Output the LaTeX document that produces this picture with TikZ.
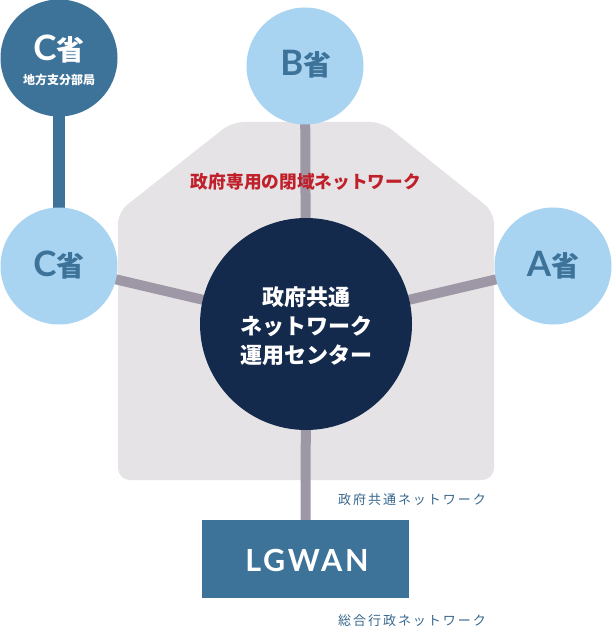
\documentclass[tikz,border=0pt]{standalone}
\usepackage{fontspec}
\setmainfont{Lato}
\newfontfamily\jp{Noto Sans CJK JP}
\newfontfamily\jpsp{Noto Sans CJK JP}[LetterSpace=15]
\newfontfamily\latsp{Lato}[LetterSpace=9]
\definecolor{dblue}{HTML}{3D7299}
\definecolor{lblue}{HTML}{A8D4F2}
\definecolor{navy}{HTML}{142A4C}
\definecolor{bggray}{HTML}{E5E3E5}
\definecolor{conn}{HTML}{9E98A6}
\definecolor{netred}{HTML}{C0202A}
\definecolor{labblue}{HTML}{36668C}
\newcommand{\sho}{{\fontsize{28}{30}\selectfont\jp 省}}
\pgfdeclarelayer{bg}
\pgfdeclarelayer{mid}
\pgfsetlayers{bg,mid,main}
\tikzset{
  ministry/.style={circle, fill=lblue, minimum size=117pt, inner sep=0pt},
  branch/.style={circle, fill=dblue, minimum size=117pt, inner sep=0pt},
  hub/.style={circle, fill=navy, minimum size=212pt, inner sep=0pt},
  lgbox/.style={rectangle, fill=dblue, minimum width=207pt, minimum height=78pt, inner sep=0pt},
  link/.style={draw=conn, line width=10pt},
  branchlink/.style={draw=dblue, line width=12pt},
  mlabel/.style={text=dblue, font=\bfseries\fontsize{35}{36}\selectfont},
  wlabel/.style={text=white, font=\bfseries\fontsize{35}{36}\selectfont},
  netlabel/.style={text=labblue, font=\fontsize{13}{15}\selectfont\jpsp},
}
\begin{document}
\begin{tikzpicture}[x=1pt,y=-1pt]
\useasboundingbox (0,0) rectangle (612,628);
% nodes
\node[branch] (Cd) at (59,58) {};
\node[wlabel] (Cdt) at (59,49) {C\sho};
\node[text=white, font=\bfseries\fontsize{12}{14}\selectfont\jp] (Cds) at (59,80) {地方支分部局};
\node[ministry] (C) at (59,266) {};
\node[mlabel] (Ct) at (59,265) {C\sho};
\node[ministry] (B) at (305,66) {};
\node[mlabel] (Bt) at (306,64) {B\sho};
\node[ministry] (A) at (553,266) {};
\node[mlabel] (At) at (553,265) {A\sho};
\node[hub] (H) at (306,324) {};
\node[text=white, align=center, font=\bfseries\fontsize{22}{29}\selectfont\jp] (Ht) at (306,326) {政府共通\\ネットワーク\\運用センター};
\node[lgbox] (L) at (305.5,559) {};
\node[text=white, font=\bfseries\fontsize{30.5}{33}\selectfont\latsp] (Lt) at (307,560) {LGWAN};
\node[text=netred, font=\bfseries\fontsize{17.7}{19}\selectfont\jp] (closed) at (306,182) {政府専用の閉域ネットワーク};
\node[netlabel] (gov) at (412,500) {政府共通ネットワーク};
\node[netlabel] (lg) at (412,621) {総合行政ネットワーク};
% background area
\begin{pgfonlayer}{bg}
\fill[bggray, rounded corners=12pt] (232,122) -- (382,122) -- (494,212) -- (494,480) -- (118,480) -- (118,212) -- cycle;
\end{pgfonlayer}
% connectors
\begin{pgfonlayer}{mid}
\draw[link] (B.center) -- (H.center);
\draw[link] (C.center) -- (H.center);
\draw[link] (A.center) -- (H.center);
\draw[link] (H.center) -- (L.center);
\draw[branchlink] (Cd.center) -- (C.center);
\end{pgfonlayer}
\end{tikzpicture}
\end{document}
